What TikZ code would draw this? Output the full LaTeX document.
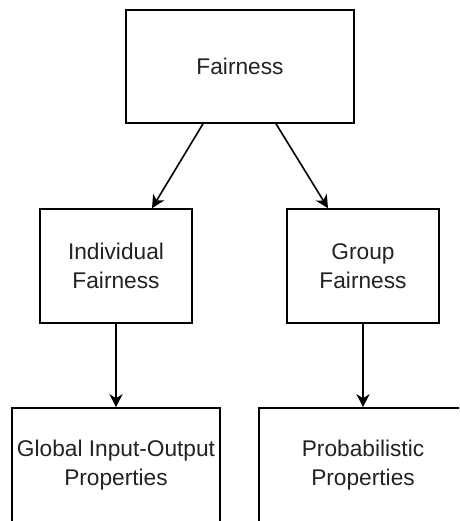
\documentclass[tikz,border=0pt]{standalone}
\usepackage{fontspec}
\setmainfont{Liberation Sans}
\usetikzlibrary{arrows.meta,calc}
\definecolor{txt}{HTML}{222222}
\tikzset{
  box/.style={draw=black, line width=1.6pt, fill=white, rectangle,
    inner sep=0pt, align=center, text=txt,
    font=\fontsize{22.7}{28.5}\selectfont},
  link/.style={draw=black, line width=1.6pt,
    -{Stealth[length=13pt, width=13pt, inset=4pt]}}
}
\begin{document}
\begin{tikzpicture}[x=1pt, y=-1pt]
  \useasboundingbox (0,0) rectangle (459,521);
  \clip (0,0) rectangle (459,521);
  \fill[white] (0,0) rectangle (459,521);

  % top level
  \node[box, minimum width=228pt, minimum height=113pt] (root) at (240,66.5) {Fairness};

  % second level
  \node[box, minimum width=152pt, minimum height=114pt] (ind) at (116,266) {Individual\\Fairness};
  \node[box, minimum width=152pt, minimum height=114pt] (grp) at (363,266) {Group\\Fairness};

  % third level
  \node[box, minimum width=208pt, minimum height=114pt] (glob) at (116,465) {Global Input-Output\\Properties};
  \node[box, minimum width=208pt, minimum height=114pt] (prob) at (363,465) {Probabilistic\\Properties};

  % connectors
  \draw[link] ($(root.south)+(-37,0)$) -- ($(ind.north)+(36,0)$);
  \draw[link] ($(root.south)+(36,0)$) -- ($(grp.north)+(-35,0)$);
  \draw[link] (ind.south) -- (glob.north);
  \draw[link] (grp.south) -- (prob.north);
\end{tikzpicture}
\end{document}
